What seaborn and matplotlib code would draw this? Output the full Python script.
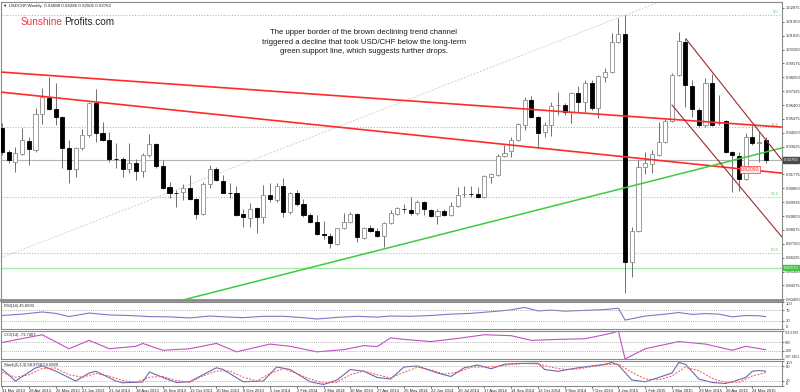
import matplotlib
matplotlib.use("Agg")
import matplotlib.pyplot as plt
import numpy as np
import pandas as pd
import seaborn as sns

sns.set_theme(style="white")
plt.rcParams['font.family'] = ['Liberation Sans', 'DejaVu Sans']

# weekly USD/CHF candles, first bar = week of 31 Mar 2013
opens = [0.9488, 0.9328, 0.9261, 0.9314, 0.9401, 0.9341, 0.9581, 0.9688, 0.9614, 0.9561,
         0.9354, 0.9214, 0.9354, 0.9441, 0.9654, 0.9454, 0.9408, 0.9284, 0.9281, 0.9214,
         0.9254, 0.9201, 0.9308, 0.9381, 0.9234, 0.9094, 0.9056, 0.9061, 0.9088, 0.9014,
         0.8914, 0.9114, 0.9214, 0.9134, 0.9056, 0.9054, 0.8914, 0.8888, 0.8954, 0.8894,
         0.9041, 0.9008, 0.9101, 0.8928, 0.9054, 0.8981, 0.8908, 0.8861, 0.8778, 0.8768,
         0.8714, 0.8821, 0.8861, 0.8914, 0.8754, 0.8821, 0.8801, 0.8768, 0.8854, 0.8914,
         0.8948, 0.8941, 0.8921, 0.8994, 0.8941, 0.8901, 0.8934, 0.8908, 0.8968, 0.9045,
         0.9049, 0.9048, 0.9028, 0.9161, 0.9174, 0.9301, 0.9334, 0.9408, 0.9508, 0.9674,
         0.9561, 0.9461, 0.9508, 0.9638, 0.9641, 0.9594, 0.9721, 0.9661, 0.9788, 0.9621,
         0.9828, 0.9861, 1.0061, 1.0114, 0.8594, 0.8801, 0.9228, 0.9248, 0.9308, 0.9394,
         0.9534, 0.9841, 1.0061, 0.9768, 0.9608, 0.9508, 0.9788, 0.9518, 0.9534, 0.9328,
         0.9301, 0.9148, 0.9428, 0.9388, 0.9409]
highs = [0.9521, 0.9341, 0.9361, 0.9488, 0.9428, 0.9621, 0.9754, 0.9828, 0.9788, 0.9565,
         0.9408, 0.9361, 0.9481, 0.9661, 0.9748, 0.9528, 0.9461, 0.9388, 0.9294, 0.9388,
         0.9281, 0.9321, 0.9448, 0.9388, 0.9274, 0.9128, 0.9074, 0.9114, 0.9174, 0.9018,
         0.9128, 0.9241, 0.9228, 0.9174, 0.9121, 0.9101, 0.8948, 0.8988, 0.8961, 0.9108,
         0.9121, 0.9121, 0.9154, 0.9061, 0.9074, 0.9014, 0.8921, 0.8908, 0.8868, 0.8788,
         0.8822, 0.8921, 0.8928, 0.8918, 0.8828, 0.8841, 0.8821, 0.8861, 0.8941, 0.8961,
         0.8981, 0.9028, 0.9008, 0.9001, 0.8948, 0.8948, 0.8948, 0.8994, 0.9094, 0.9101,
         0.9101, 0.9094, 0.9174, 0.9188, 0.9314, 0.9374, 0.9428, 0.9521, 0.9694, 0.9701,
         0.9565, 0.9528, 0.9661, 0.9728, 0.9654, 0.9728, 0.9768, 0.9808, 0.9808, 0.9838,
         0.9888, 1.0121, 1.0221, 1.0241, 0.8828, 0.9274, 0.9328, 0.9341, 0.9528, 0.9548,
         0.9854, 1.0128, 1.0088, 0.9808, 0.9621, 0.9821, 0.9848, 0.9708, 0.9541, 0.9331,
         0.9328, 0.9454, 0.9508, 0.9461, 0.9429]
lows = [0.9308, 0.9254, 0.9194, 0.9308, 0.9241, 0.9328, 0.9514, 0.9608, 0.9508, 0.9221,
        0.9121, 0.9161, 0.9341, 0.9428, 0.9394, 0.9401, 0.9261, 0.9221, 0.9161, 0.9188,
        0.9141, 0.9161, 0.9294, 0.9221, 0.9084, 0.9021, 0.8961, 0.9008, 0.9008, 0.8881,
        0.8908, 0.9088, 0.9134, 0.9051, 0.9021, 0.8901, 0.8828, 0.8828, 0.8788, 0.8854,
        0.8994, 0.8994, 0.8894, 0.8914, 0.8968, 0.8894, 0.8854, 0.8774, 0.8748, 0.8688,
        0.8708, 0.8814, 0.8854, 0.8728, 0.8748, 0.8797, 0.8761, 0.8694, 0.8848, 0.8908,
        0.8921, 0.8908, 0.8908, 0.8908, 0.8894, 0.8848, 0.8901, 0.8901, 0.8961, 0.9028,
        0.9028, 0.9021, 0.9021, 0.9121, 0.9168, 0.9294, 0.9294, 0.9401, 0.9474, 0.9554,
        0.9354, 0.9428, 0.9434, 0.9574, 0.9574, 0.9521, 0.9594, 0.9594, 0.9608, 0.9554,
        0.9794, 0.9854, 1.0054, 0.8388, 0.8494, 0.8794, 0.9181, 0.9188, 0.9301, 0.9388,
        0.9528, 0.9834, 0.9628, 0.9561, 0.9494, 0.9494, 0.9501, 0.9508, 0.9321, 0.9061,
        0.9068, 0.9141, 0.9374, 0.9261, 0.9251]
closes = [0.9328, 0.9274, 0.9321, 0.9408, 0.9348, 0.9581, 0.9694, 0.9614, 0.9561, 0.9354,
          0.9214, 0.9354, 0.9441, 0.9654, 0.9454, 0.9408, 0.9281, 0.9278, 0.9214, 0.9254,
          0.9201, 0.9308, 0.9381, 0.9234, 0.9088, 0.9054, 0.9052, 0.9088, 0.9014, 0.8914,
          0.9114, 0.9214, 0.9141, 0.9054, 0.9051, 0.8908, 0.8894, 0.8948, 0.8894, 0.9041,
          0.9014, 0.9101, 0.8928, 0.9054, 0.8981, 0.8908, 0.8861, 0.8781, 0.8771, 0.8721,
          0.8821, 0.8861, 0.8914, 0.8761, 0.8821, 0.8801, 0.8768, 0.8854, 0.8921, 0.8954,
          0.8946, 0.8921, 0.8994, 0.8948, 0.8901, 0.8934, 0.8908, 0.8968, 0.9041, 0.9049,
          0.9046, 0.9028, 0.9168, 0.9181, 0.9301, 0.9321, 0.9408, 0.9514, 0.9674, 0.9561,
          0.9454, 0.9508, 0.9634, 0.9641, 0.9594, 0.9721, 0.9661, 0.9788, 0.9621, 0.9834,
          0.9861, 1.0061, 1.0114, 0.8594, 0.8801, 0.9228, 0.9254, 0.9314, 0.9394, 0.9534,
          0.9841, 1.0068, 0.9774, 0.9614, 0.9508, 0.9788, 0.9508, 0.9521, 0.9328, 0.9308,
          0.9148, 0.9428, 0.9388, 0.9394, 0.9276]

date_labels = ['31 Mar 2013', '28 Apr 2013', '26 May 2013', '23 Jun 2013', '21 Jul 2013',
               '18 Aug 2013', '15 Sep 2013', '13 Oct 2013', '10 Nov 2013', '8 Dec 2013',
               '5 Jan 2014', '2 Feb 2014', '2 Mar 2014', '30 Mar 2014', '27 Apr 2014',
               '25 May 2014', '22 Jun 2014', '20 Jul 2014', '17 Aug 2014', '14 Sep 2014',
               '12 Oct 2014', '9 Nov 2014', '7 Dec 2014', '4 Jan 2015', '1 Feb 2015',
               '1 Mar 2015', '29 Mar 2015', '26 Apr 2015', '24 May 2015']

# RSI(14) readings
rsi_bars = [0, 3, 6, 8, 10, 13, 16, 19, 22, 25, 28, 31, 34, 36, 39, 42, 45, 47, 50, 53,
            56, 58, 61, 64, 67, 70, 72, 74, 76, 78, 80, 82, 84, 86, 88, 90, 92, 93, 94, 96,
            99, 101, 103, 105, 107, 109, 111, 113, 114]
rsi_vals = [50, 55, 63, 58, 46, 59, 52, 50, 46, 45, 41, 48, 44, 42, 47, 47, 42, 37, 43, 47,
            44, 48, 47, 50, 55, 58, 62, 66, 71, 80, 67, 70, 66, 68, 70, 72, 77, 33, 38, 48,
            55, 61, 54, 57, 55, 45, 50, 49, 45.6]

# CCI(14) readings
cci_bars = [0, 6, 10, 13, 16, 20, 21, 24, 28, 32, 35, 40, 43, 47, 51, 54, 56, 58, 60, 64,
            68, 72, 76, 79, 83, 87, 91, 92, 93, 96, 101, 105, 109, 111, 114]
cci_vals = [91, 270, -52, 141, -52, 4, 70, -87, -52, 70, -123, 55, 4, -123, -73, 20, -2,
            198, 163, 113, 184, 270, 248, 141, 163, 177, 306, 355.7, -287.5, -52, 113, 55,
            -87, 4, -73.7]

# Stochastic(5,3,3) readings
sto_k_bars = [0, 2, 5, 6, 8, 11, 13, 14, 17, 18, 21, 22, 25, 26, 28, 32, 33, 36, 39, 41,
              43, 46, 48, 50, 52, 54, 56, 58, 60, 62, 65, 67, 69, 71, 73, 75, 77, 80, 81,
              83, 86, 88, 90, 91, 92, 94, 96, 98, 100, 101, 102, 104, 106, 108, 109, 111,
              112, 113, 114]
sto_k = [68, 20, 72, 80, 60, 20, 52, 59, 20, 13, 16, 56, 24, 14, 17, 73, 66, 17, 20, 76,
         66, 17, 6, 24, 66, 59, 34, 28, 76, 80, 52, 38, 73, 84, 69, 87, 90, 91, 66, 59, 73,
         80, 87, 94, 84, 24, 17, 34, 52, 94, 87, 28, 14, 10, 17, 34, 59, 62, 59]
sto_d_bars = [0, 2, 4, 6, 8, 10, 12, 14, 16, 18, 20, 22, 24, 26, 28, 30, 32, 34, 36, 38,
              40, 42, 44, 46, 48, 50, 52, 54, 56, 58, 60, 62, 64, 66, 68, 70, 72, 74, 76,
              78, 80, 82, 84, 86, 88, 90, 92, 94, 96, 98, 100, 102, 104, 106, 108, 110,
              112, 114]
sto_d = [55, 35, 45, 70, 72, 45, 35, 50, 40, 22, 15, 35, 38, 22, 15, 40, 60, 60, 35, 20,
         50, 70, 50, 28, 12, 15, 45, 60, 45, 32, 55, 75, 65, 48, 55, 75, 76, 78, 87, 90,
         88, 75, 66, 68, 77, 85, 88, 55, 28, 25, 40, 75, 62, 30, 15, 15, 40, 53.6]

# drawn objects, (bar, price) anchors
red_upper = [(0, 0.9860), (115, 0.9498)]
red_lower = [(0, 0.9726), (115, 0.9193)]
green_support = [(30, 0.8375), (110, 0.9282)]
channel_upper = [(102.1, 1.0081), (116.4, 0.9274)]
channel_lower = [(100, 0.9641), (116.4, 0.8761)]
fib_diag = [(-1, 0.8607), (93, 1.0240)]
fib_high, fib_low = 1.0240, 0.7067
fib_levels = ['0.0', '23.6', '38.2', '50.0']
support_level = 0.8557
y_ticks = [1.02875, 1.01950, 1.01025, 1.00100, 0.99175, 0.98250, 0.97325, 0.96400,
           0.95475, 0.94550, 0.93625, 0.91775, 0.90850, 0.89925, 0.89000,
           0.88075, 0.87150, 0.86225, 0.85300, 0.84375, 0.83450]

df = pd.DataFrame({'open': opens, 'high': highs, 'low': lows, 'close': closes})
df['bar'] = np.arange(len(df))
XL = (-0.15, 116.42)
FS = 3.0

fig = plt.figure(figsize=(8, 3.92), dpi=100)


def rect(x0, y0, x1, y1):
    return [x0 / 800, 1 - y1 / 392, (x1 - x0) / 800, (y1 - y0) / 392]


ax = fig.add_axes(rect(1, 2, 782, 300))
ax_rsi = fig.add_axes(rect(1, 302, 782, 329))
ax_cci = fig.add_axes(rect(1, 331, 782, 359))
ax_sto = fig.add_axes(rect(1, 361, 782, 386))

for a in (ax, ax_rsi, ax_cci, ax_sto):
    a.set_xlim(*XL)
    for s in a.spines.values():
        s.set_color('#8a8a8a')
        s.set_linewidth(0.8)
    a.yaxis.tick_right()
    a.tick_params(axis='y', labelsize=FS, length=1.5, width=0.5, pad=1,
                  colors='#333333', right=True, left=False)
    a.tick_params(axis='x', bottom=False, labelbottom=False)
ax.spines['bottom'].set_linewidth(2)

# candles
up = df.close >= df.open
body = (df.close - df.open).abs().clip(lower=0.0004)
ax.vlines(df.bar, df.low, df.high, color='#707070', lw=0.7, zorder=2)
ax.bar(df.bar[up], body[up], bottom=df[['open', 'close']].min(axis=1)[up], width=0.62,
       color='white', edgecolor='#8c8c8c', lw=0.6, zorder=3)
ax.bar(df.bar[~up], body[~up], bottom=df[['open', 'close']].min(axis=1)[~up], width=0.62,
       color='black', edgecolor='black', lw=0.6, zorder=3)

# fibonacci levels
for lv in fib_levels:
    p = fib_high - float(lv) / 100 * (fib_high - fib_low)
    ax.axhline(p, color='#7ede7e', lw=0.8, ls=(0, (1, 1.5)), zorder=1)
    ax.text(115.9, p + 0.0006, lv, color='#66cc66', fontsize=FS, ha='right', va='bottom')

ax.axhline(support_level, color='#a8eaa8', lw=1.0, zorder=1)
ax.axhline(closes[-1], color='#b4b4b4', lw=0.8, zorder=1)

# trend lines
ax.axline(*fib_diag, color='#d0d0d0', lw=0.7, ls=(0, (2, 1.5)), zorder=1)
ax.axline(*red_upper, color='#ff2a2a', lw=1.2, zorder=4)
ax.axline(*red_lower, color='#ff2a2a', lw=1.2, zorder=4)
ax.axline(*green_support, color='#3ccc3c', lw=1.1, zorder=4)
for seg in (channel_upper, channel_lower):
    sns.lineplot(x=[seg[0][0], seg[1][0]], y=[seg[0][1], seg[1][1]], ax=ax,
                 color='#a0282a', lw=0.8, legend=False, zorder=4)

ax.set_ylim(0.83408, 1.03275)
ax.set_yticks(y_ticks)
ax.set_yticklabels([f'{v:.5f}' for v in y_ticks])
ax.set_xlabel('')
ax.set_ylabel('')

# red line price tag
tag = red_lower[0][1] + (red_lower[1][1] - red_lower[0][1]) * (111.5 / 115)
ax.text(110.3, tag, f'{tag:.5f}', color='#ff4040', fontsize=3.6, va='center', ha='left',
        zorder=6, bbox=dict(boxstyle='square,pad=0.15', fc='#ffe8e8', ec='#ff5050', lw=0.6))

# price labels on the axis
for val, col in ((closes[-1], '#4a4a4a'), (support_level, '#44c044')):
    ax.annotate(f'{val:.5f}', xy=(1.0, val), xycoords=('axes fraction', 'data'),
                xytext=(1.2, 0), textcoords='offset points', fontsize=FS, color='white',
                va='center', ha='left', annotation_clip=False, zorder=10,
                bbox=dict(boxstyle='square,pad=0.2', fc=col, ec=col))

# header, watermark, comment
fig.text(3 / 800, 1 - 5.5 / 392, '\u25bc USDCHF,Weekly  0.94088 0.94286 0.92505 0.92762',
         fontsize=3.2, color='#222222', va='center', ha='left')
fig.text(21 / 800, 1 - 22 / 392, 'Sunshine', fontsize=7.2, color='#ee3348', va='center')
fig.text(64 / 800, 1 - 22 / 392, 'Profits.com', fontsize=7.2, color='#222222', va='center')
fig.text(364 / 800, 1 - 42 / 392,
         'The upper border of the brown declining trend channel\n'
         'triggered a decline that took USD/CHF below the long-term\n'
         'green support line, which suggests further drops.',
         fontsize=5.6, color='#1a1a1a', ha='center', va='center', linespacing=1.55)

# RSI
sns.lineplot(x=rsi_bars, y=rsi_vals, ax=ax_rsi, color='#7a7ac6', lw=0.8, legend=False)
for lv in (70, 30):
    ax_rsi.axhline(lv, color='#9a9a9a', lw=0.6, ls=(0, (1, 1.5)))
ax_rsi.set_ylim(0, 100)
ax_rsi.set_yticks([100, 70, 30, 0])
ax_rsi.text(0.004, 0.92, 'RSI(14) 45.6093', transform=ax_rsi.transAxes, fontsize=FS,
            va='top', color='#222222')

# CCI
sns.lineplot(x=cci_bars, y=cci_vals, ax=ax_cci, color='#c050c0', lw=0.8, legend=False)
for lv in (100, -100):
    ax_cci.axhline(lv, color='#9a9a9a', lw=0.6, ls=(0, (1, 1.5)))
ax_cci.set_ylim(-287.5451, 355.6769)
ax_cci.set_yticks([355.6769, 100, -100, -287.5451])
ax_cci.set_yticklabels(['355.6769', '100', '-100', '-287.5451'], fontsize=2.4)
ax_cci.tick_params(axis='y', pad=0.5)
ax_cci.text(0.004, 0.92, 'CCI(14) -73.7407', transform=ax_cci.transAxes, fontsize=FS,
            va='top', color='#222222')

# Stochastic
sns.lineplot(x=sto_k_bars, y=sto_k, ax=ax_sto, color='#6a6ab0', lw=0.8, legend=False)
sns.lineplot(x=sto_d_bars, y=sto_d, ax=ax_sto, color='#ff4a4a', lw=0.7, legend=False)
ax_sto.lines[-1].set_linestyle((0, (2, 1.5)))
for lv in (80, 20):
    ax_sto.axhline(lv, color='#9a9a9a', lw=0.6, ls=(0, (1, 1.5)))
ax_sto.set_ylim(0, 100)
ax_sto.set_yticks([100, 80, 20, 0])
ax_sto.text(0.004, 0.92, 'Stoch(5,3,3) 58.9758 53.5589', transform=ax_sto.transAxes,
            fontsize=FS, va='top', color='#222222')

# keep the edge labels of the small panels inside their own panel
for a in (ax_rsi, ax_cci, ax_sto):
    a.set_xlabel('')
    a.set_ylabel('')
    labs = a.get_yticklabels()
    labs[0].set_verticalalignment('top')
    labs[-1].set_verticalalignment('bottom')

ax_sto.set_xticks(range(0, 113, 4))
ax_sto.set_xticklabels(date_labels, fontsize=FS, ha='left', color='#222222')
ax_sto.tick_params(axis='x', bottom=True, labelbottom=True, length=1.5, width=0.5, pad=0.5)

fig.savefig('out.png', dpi=100, facecolor='white')
